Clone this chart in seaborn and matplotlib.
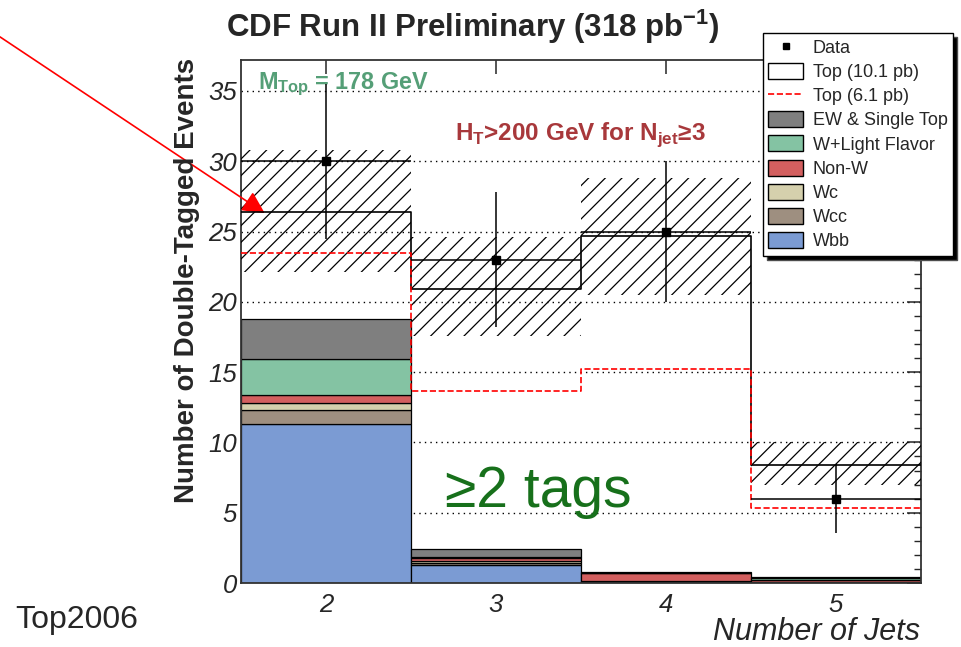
import numpy as np
import pandas as pd
import matplotlib
matplotlib.use('Agg')
import matplotlib.pyplot as plt
import matplotlib.ticker as mticker
from matplotlib.patches import Patch
from matplotlib.lines import Line2D
import seaborn as sns

# --- values ---
n_jets = [2, 3, 4, 5]
bin_edges = [1.5, 2.5, 3.5, 4.5, 5.5]

# background processes, drawn top -> bottom in the stack
processes = ['EW & Single Top', 'W+Light Flavor', 'Non-W', 'Wc', 'Wcc', 'Wbb']
ew_single_top = [2.9, 0.55, 0.05, 0.05]
w_light = [2.5, 0.10, 0.03, 0.15]
non_w = [0.6, 0.20, 0.55, 0.20]
wc = [0.5, 0.10, 0.02, 0.01]
wcc = [1.0, 0.17, 0.02, 0.01]
wbb = [11.3, 1.28, 0.10, 0.02]

top_101 = [26.4, 20.9, 24.7, 8.4]    # background + top (10.1 pb)
top_61 = [23.5, 13.65, 15.2, 5.3]    # background + top (6.1 pb)
band_lo = [22.1, 17.6, 20.5, 7.0]
band_hi = [30.8, 24.6, 28.8, 10.0]

data_y = [30, 23, 25, 6]
data_err = [5.5, 4.8, 5.0, 2.45]

colors = {
    'EW & Single Top': '#7f7f7f',
    'W+Light Flavor': '#84c3a3',
    'Non-W': '#d35f5f',
    'Wc': '#d5d0ad',
    'Wcc': '#9e8f80',
    'Wbb': '#7b9bd3',
}

# --- style ---
sns.set_style('white')
plt.rcParams['font.family'] = ['Liberation Sans', 'DejaVu Sans']
plt.rcParams['mathtext.fontset'] = 'custom'
plt.rcParams['mathtext.rm'] = 'Liberation Sans'
plt.rcParams['mathtext.bf'] = 'Liberation Sans:bold'
plt.rcParams['hatch.linewidth'] = 0.9

fig = plt.figure(figsize=(9.62, 6.47), dpi=100)
ax = fig.add_axes([0.2505, 0.0989, 0.7069, 0.8084])

bkg = pd.DataFrame({
    'njet': n_jets * len(processes),
    'events': ew_single_top + w_light + non_w + wc + wcc + wbb,
    'process': np.repeat(processes, len(n_jets)),
})
sns.histplot(data=bkg, x='njet', weights='events', hue='process',
             hue_order=processes, multiple='stack', bins=bin_edges,
             palette=colors, edgecolor='black', linewidth=0.9, alpha=1,
             legend=False, ax=ax)

# uncertainty band on the top (10.1 pb) prediction
ax.bar(n_jets, np.subtract(band_hi, band_lo), bottom=band_lo, width=1.0,
       fill=False, hatch='//', edgecolor='black', linewidth=0, zorder=3)

sns.histplot(x=n_jets, weights=top_101, bins=bin_edges, element='step',
             fill=False, color='black', linewidth=1.2, ax=ax, zorder=4)
sns.histplot(x=n_jets, weights=top_61, bins=bin_edges, element='step',
             fill=False, color='red', linestyle='--', linewidth=1.2, ax=ax, zorder=4)

ax.errorbar(n_jets, data_y, yerr=data_err, xerr=0.5, fmt='s', color='black',
            ms=6, capsize=0, elinewidth=1.1, zorder=5)

# --- axes ---
ax.set_xlim(1.5, 5.5)
ax.set_ylim(0, 37.2)
ax.set_xticks(n_jets)
ax.yaxis.set_major_locator(mticker.MultipleLocator(5))
ax.yaxis.set_minor_locator(mticker.MultipleLocator(1))
ax.set_xlabel('')
ax.set_ylabel('')
ax.set_axisbelow(True)
ax.yaxis.grid(True, linestyle=(0, (1, 3)), color='black', linewidth=1.0)
ax.tick_params(which='both', direction='in', top=True, right=True, labelsize=18.5)
ax.tick_params(which='major', length=10, width=1.1)
ax.tick_params(which='minor', length=5, width=1.0)
ax.tick_params(axis='x', pad=7)
ax.tick_params(axis='y', pad=3)
for lab in ax.get_xticklabels() + ax.get_yticklabels():
    lab.set_fontstyle('italic')
for sp in ax.spines.values():
    sp.set_linewidth(1.3)
    sp.set_color('#333333')

# --- text ---
fig.text(0.491, 0.958, r'CDF Run II Preliminary (318 pb$^{\mathbf{-1}}$)',
         ha='center', va='center', fontsize=22.5, fontweight='bold')
ax.text(0.025, 0.945, r'M$_{\mathbf{Top}}$ = 178 GeV', transform=ax.transAxes,
        fontsize=16.8, fontweight='bold', color='#559f77', va='baseline')
ax.text(0.315, 0.847, r'H$_{\mathbf{T}}$>200 GeV for N$_{\mathbf{jet}}$≥3',
        transform=ax.transAxes, fontsize=17.5, fontweight='bold',
        color='#a8383b', va='baseline')
ax.text(0.30, 0.145, '≥2 tags', transform=ax.transAxes, fontsize=41,
        color='#17701b', va='baseline')
fig.text(0.194, 0.566, 'Number of Double-Tagged Events', rotation=90,
         ha='center', va='center', fontsize=20, fontweight='bold')
fig.text(0.956, 0.011, 'Number of Jets', ha='right', va='baseline',
         fontsize=22, fontstyle='italic')
fig.text(0.0156, 0.03, 'Top2006', ha='left', va='baseline', fontsize=23)

ax.annotate('', xy=(1.64, 26.3), xycoords='data',
            xytext=(0.0, 0.943), textcoords='figure fraction',
            arrowprops=dict(arrowstyle='-|>', color='red', lw=1.2,
                            mutation_scale=34, shrinkA=0, shrinkB=0),
            annotation_clip=False)

# --- legend ---
handles = [
    Line2D([], [], marker='s', color='black', ls='none', ms=5),
    Patch(facecolor='white', edgecolor='black'),
    Line2D([], [], color='red', ls='--', lw=1.2),
] + [Patch(facecolor=colors[p], edgecolor='black') for p in processes]
labels = ['Data', 'Top (10.1 pb)', 'Top (6.1 pb)'] + processes
leg = fig.legend(handles, labels, loc='upper left',
                 bbox_to_anchor=(0.793, 0.949), bbox_transform=fig.transFigure,
                 borderaxespad=0, fontsize=13, frameon=True, fancybox=False,
                 framealpha=1, edgecolor='black', handlelength=1.95,
                 handleheight=1.0, handletextpad=0.5, labelspacing=0.33,
                 borderpad=0.3,
                 shadow={'ox': 3, 'oy': -3, 'facecolor': 'black', 'alpha': 1})
leg.get_frame().set_linewidth(1.0)

fig.savefig('out.png', dpi=100)
